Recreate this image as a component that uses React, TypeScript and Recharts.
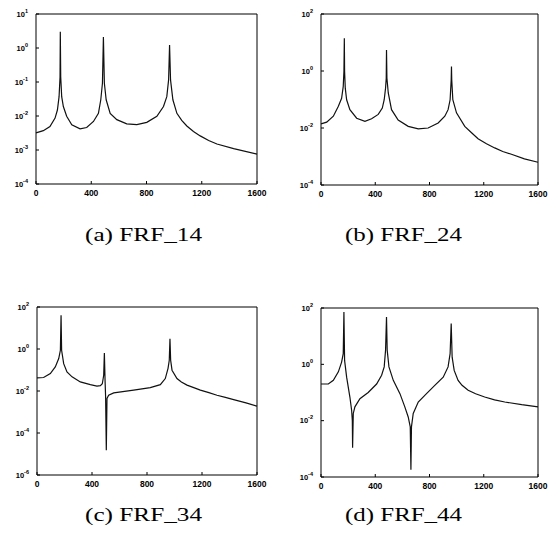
import { LineChart, Line, XAxis, YAxis, ReferenceArea } from 'recharts'

// FRF_14
const freq14 = [0, 53, 101, 138, 155, 167, 174, 176, 179, 186, 198, 222, 259, 319, 367, 416, 452, 469, 481, 488, 495, 508, 537, 585, 657, 730, 802, 875, 923, 947, 960, 967, 974, 991, 1020, 1055, 1092, 1140, 1189, 1250, 1310, 1431, 1600]
const mag14 = [0.0032, 0.0037, 0.0049, 0.0087, 0.015, 0.037, 0.14, 3.0, 0.14, 0.037, 0.019, 0.0098, 0.0055, 0.0042, 0.0046, 0.0069, 0.012, 0.03, 0.092, 2.1, 0.092, 0.03, 0.012, 0.0078, 0.0059, 0.0056, 0.0065, 0.0098, 0.019, 0.037, 0.115, 1.23, 0.115, 0.03, 0.012, 0.0074, 0.0051, 0.0035, 0.0026, 0.0019, 0.0015, 0.0011, 0.00076]

// FRF_24
const freq24 = [0, 42, 91, 128, 152, 164, 169, 172, 174, 179, 189, 213, 263, 324, 373, 422, 452, 466, 476, 481, 483, 486, 496, 520, 569, 643, 717, 790, 864, 913, 937, 952, 960, 962, 964, 972, 999, 1060, 1110, 1158, 1220, 1281, 1340, 1404, 1500, 1600]
const mag24 = [0.014, 0.016, 0.026, 0.058, 0.11, 0.29, 0.96, 14, 0.96, 0.25, 0.098, 0.044, 0.022, 0.017, 0.021, 0.03, 0.05, 0.098, 0.25, 0.56, 5.5, 0.56, 0.17, 0.044, 0.019, 0.0114, 0.0093, 0.01, 0.015, 0.026, 0.044, 0.098, 0.49, 1.45, 0.49, 0.098, 0.034, 0.0114, 0.0068, 0.0042, 0.0028, 0.002, 0.0015, 0.0012, 0.00083, 0.00063]

// FRF_34
const freq34 = [0, 48, 97, 133, 158, 170, 175, 179, 194, 218, 255, 315, 388, 436, 461, 475, 485, 490, 495, 499, 504, 509, 521, 558, 703, 824, 897, 933, 953, 962, 967, 972, 982, 1018, 1050, 1091, 1140, 1188, 1250, 1309, 1370, 1430, 1520, 1600]
const mag34 = [0.042, 0.044, 0.068, 0.14, 0.35, 0.87, 40, 0.87, 0.2, 0.081, 0.047, 0.027, 0.02, 0.017, 0.018, 0.022, 0.056, 0.65, 0.032, 0.0052, 0.000015, 0.0044, 0.0063, 0.0081, 0.011, 0.0145, 0.02, 0.039, 0.12, 0.29, 3.1, 0.29, 0.098, 0.039, 0.027, 0.019, 0.0145, 0.011, 0.0083, 0.0063, 0.005, 0.0039, 0.0027, 0.0019]

// FRF_44
const freq44 = [0, 54, 91, 128, 152, 164, 169, 174, 189, 213, 226, 231, 233, 238, 250, 287, 348, 410, 447, 466, 476, 483, 488, 501, 533, 582, 618, 643, 658, 663, 667, 680, 717, 778, 839, 901, 937, 952, 960, 967, 982, 1011, 1040, 1085, 1140, 1207, 1280, 1355, 1480, 1600]
const mag44 = [0.2, 0.2, 0.27, 0.54, 1.2, 2.4, 72, 1.38, 0.35, 0.069, 0.023, 0.01, 0.0011, 0.018, 0.031, 0.06, 0.1, 0.2, 0.41, 0.81, 3.2, 48, 3.2, 0.81, 0.27, 0.091, 0.031, 0.0135, 0.006, 0.00018, 0.006, 0.018, 0.046, 0.091, 0.18, 0.35, 0.81, 2.4, 28, 1.8, 0.61, 0.27, 0.18, 0.12, 0.09, 0.069, 0.055, 0.046, 0.037, 0.031]

const xTicks = [0, 400, 800, 1200, 1600]
const yTicks14 = [1e-4, 1e-3, 1e-2, 1e-1, 1, 10]
const yTicks24 = [1e-4, 1e-2, 1, 100]
const yTicks34 = [1e-6, 1e-4, 1e-2, 1, 100]
const yTicks44 = [1e-4, 1e-2, 1, 100]

const captions = ['(a) FRF_14', '(b) FRF_24', '(c) FRF_34', '(d) FRF_44']

const tickFont = '"Liberation Sans", Arial, sans-serif'

const YTick = ({ x, y, payload }: any) => {
  const e = Math.round(Math.log10(payload.value))
  return (
    <g>
      <line x1={x} x2={x + 3} y1={y} y2={y} stroke="#000" />
      <text x={x - 8} y={y + 2.5} textAnchor="end" fontFamily={tickFont} fontWeight={700} fontSize={7.5} fill="#000">
        10<tspan dy={-4} fontSize={5.5}>{e}</tspan>
      </text>
    </g>
  )
}

const XTick = ({ x, y, payload }: any) => (
  <g>
    <line x1={x} x2={x} y1={y} y2={y - 3} stroke="#000" />
    <text x={x} y={y + 12} textAnchor="middle" fontFamily={tickFont} fontWeight={700} fontSize={8.5} fill="#000">
      {payload.value}
    </text>
  </g>
)

function Panel({ freq, mag, yTicks, left, top, margin }: any) {
  const data = freq.map((f: number, i: number) => ({ f, v: mag[i] }))
  const lo = yTicks[0]
  const hi = yTicks[yTicks.length - 1]
  return (
    <div style={{ position: 'absolute', left, top }}>
      <LineChart width={278} height={230} data={data} margin={margin}>
        <XAxis dataKey="f" type="number" domain={[0, 1600]} ticks={xTicks} axisLine={false} tickLine={false} tickSize={0} tickMargin={0} height={20} tick={<XTick />} interval={0} />
        <YAxis type="number" scale="log" domain={[lo, hi]} ticks={yTicks} allowDataOverflow axisLine={false} tickLine={false} tickSize={0} tickMargin={0} width={30} tick={<YTick />} interval={0} />
        <ReferenceArea x1={0} x2={1600} y1={lo} y2={hi} fill="none" stroke="#000" strokeWidth={1} />
        <Line dataKey="v" type="linear" stroke="#111" strokeWidth={1.2} dot={false} isAnimationActive={false} />
      </LineChart>
    </div>
  )
}

export default function App() {
  return (
    <div style={{ position: 'absolute', left: 0, top: 0, width: 556, height: 540, background: '#fff' }}>
      <Panel freq={freq14} mag={mag14} yTicks={yTicks14} left={0} top={0} margin={{ top: 14, right: 21, left: 6, bottom: 26 }} />
      <Panel freq={freq24} mag={mag24} yTicks={yTicks24} left={278} top={0} margin={{ top: 14, right: 18, left: 13, bottom: 25 }} />
      <Panel freq={freq34} mag={mag34} yTicks={yTicks34} left={0} top={270} margin={{ top: 37, right: 21, left: 7, bottom: 5 }} />
      <Panel freq={freq44} mag={mag44} yTicks={yTicks44} left={278} top={270} margin={{ top: 38, right: 18, left: 13, bottom: 3 }} />
      <svg width={556} height={540} style={{ position: 'absolute', left: 0, top: 0, pointerEvents: 'none' }}>
        {captions.map((c, i) => (
          <text key={c} x={i % 2 === 0 ? 85 : 345} y={i < 2 ? 241 : 521} textLength={117} lengthAdjust="spacingAndGlyphs" fontFamily='"Liberation Serif", "Times New Roman", serif' fontSize={18} fill="#000">
            {c}
          </text>
        ))}
      </svg>
    </div>
  )
}
